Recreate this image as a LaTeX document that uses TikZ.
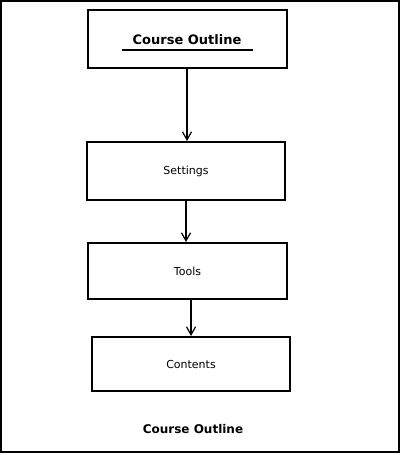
\documentclass[tikz,border=0pt]{standalone}
\usepackage{fontspec}
\setmainfont{DejaVu Sans}
\usetikzlibrary{arrows.meta}
\begin{document}
\begin{tikzpicture}[x=1pt,y=-1pt,
        box/.style={draw,line width=2pt,minimum width=198pt,inner sep=0pt,anchor=center,font=\fontsize{11}{13}\selectfont},
        link/.style={line width=2pt,-{Straight Barb[length=8pt,width=9pt,line width=1.2pt]}}]
        \useasboundingbox (0,0) rectangle (402,455);
        \draw[line width=2pt] (1,1) rectangle (399,452);
        \node[box,minimum width=199pt,minimum height=58pt] (outline) at (187,39) {};
        \node[font=\bfseries\fontsize{13}{15}\selectfont,inner sep=1pt] (title) at (187,40) {Course Outline};
        \draw[line width=1.6pt] ([xshift=-9pt,yshift=-4pt]title.south west) -- ([xshift=10pt,yshift=-4pt]title.south east);
        \node[box,minimum height=58pt] (settings) at (186,171) {Settings};
        \node[box,minimum width=199pt,minimum height=56pt] (tools) at (187.5,271) {Tools};
        \node[box,minimum height=54pt] (contents) at (191,364) {Contents};
        \draw[link] (outline.south) -- (outline.south |- settings.north);
        \draw[link] (settings.south) -- (settings.south |- tools.north);
        \draw[link] (contents.north |- tools.south) -- (contents.north);
        \node[font=\bfseries\fontsize{12}{14}\selectfont] (caption) at (193,429) {Course Outline};
    \end{tikzpicture}
\end{document}
